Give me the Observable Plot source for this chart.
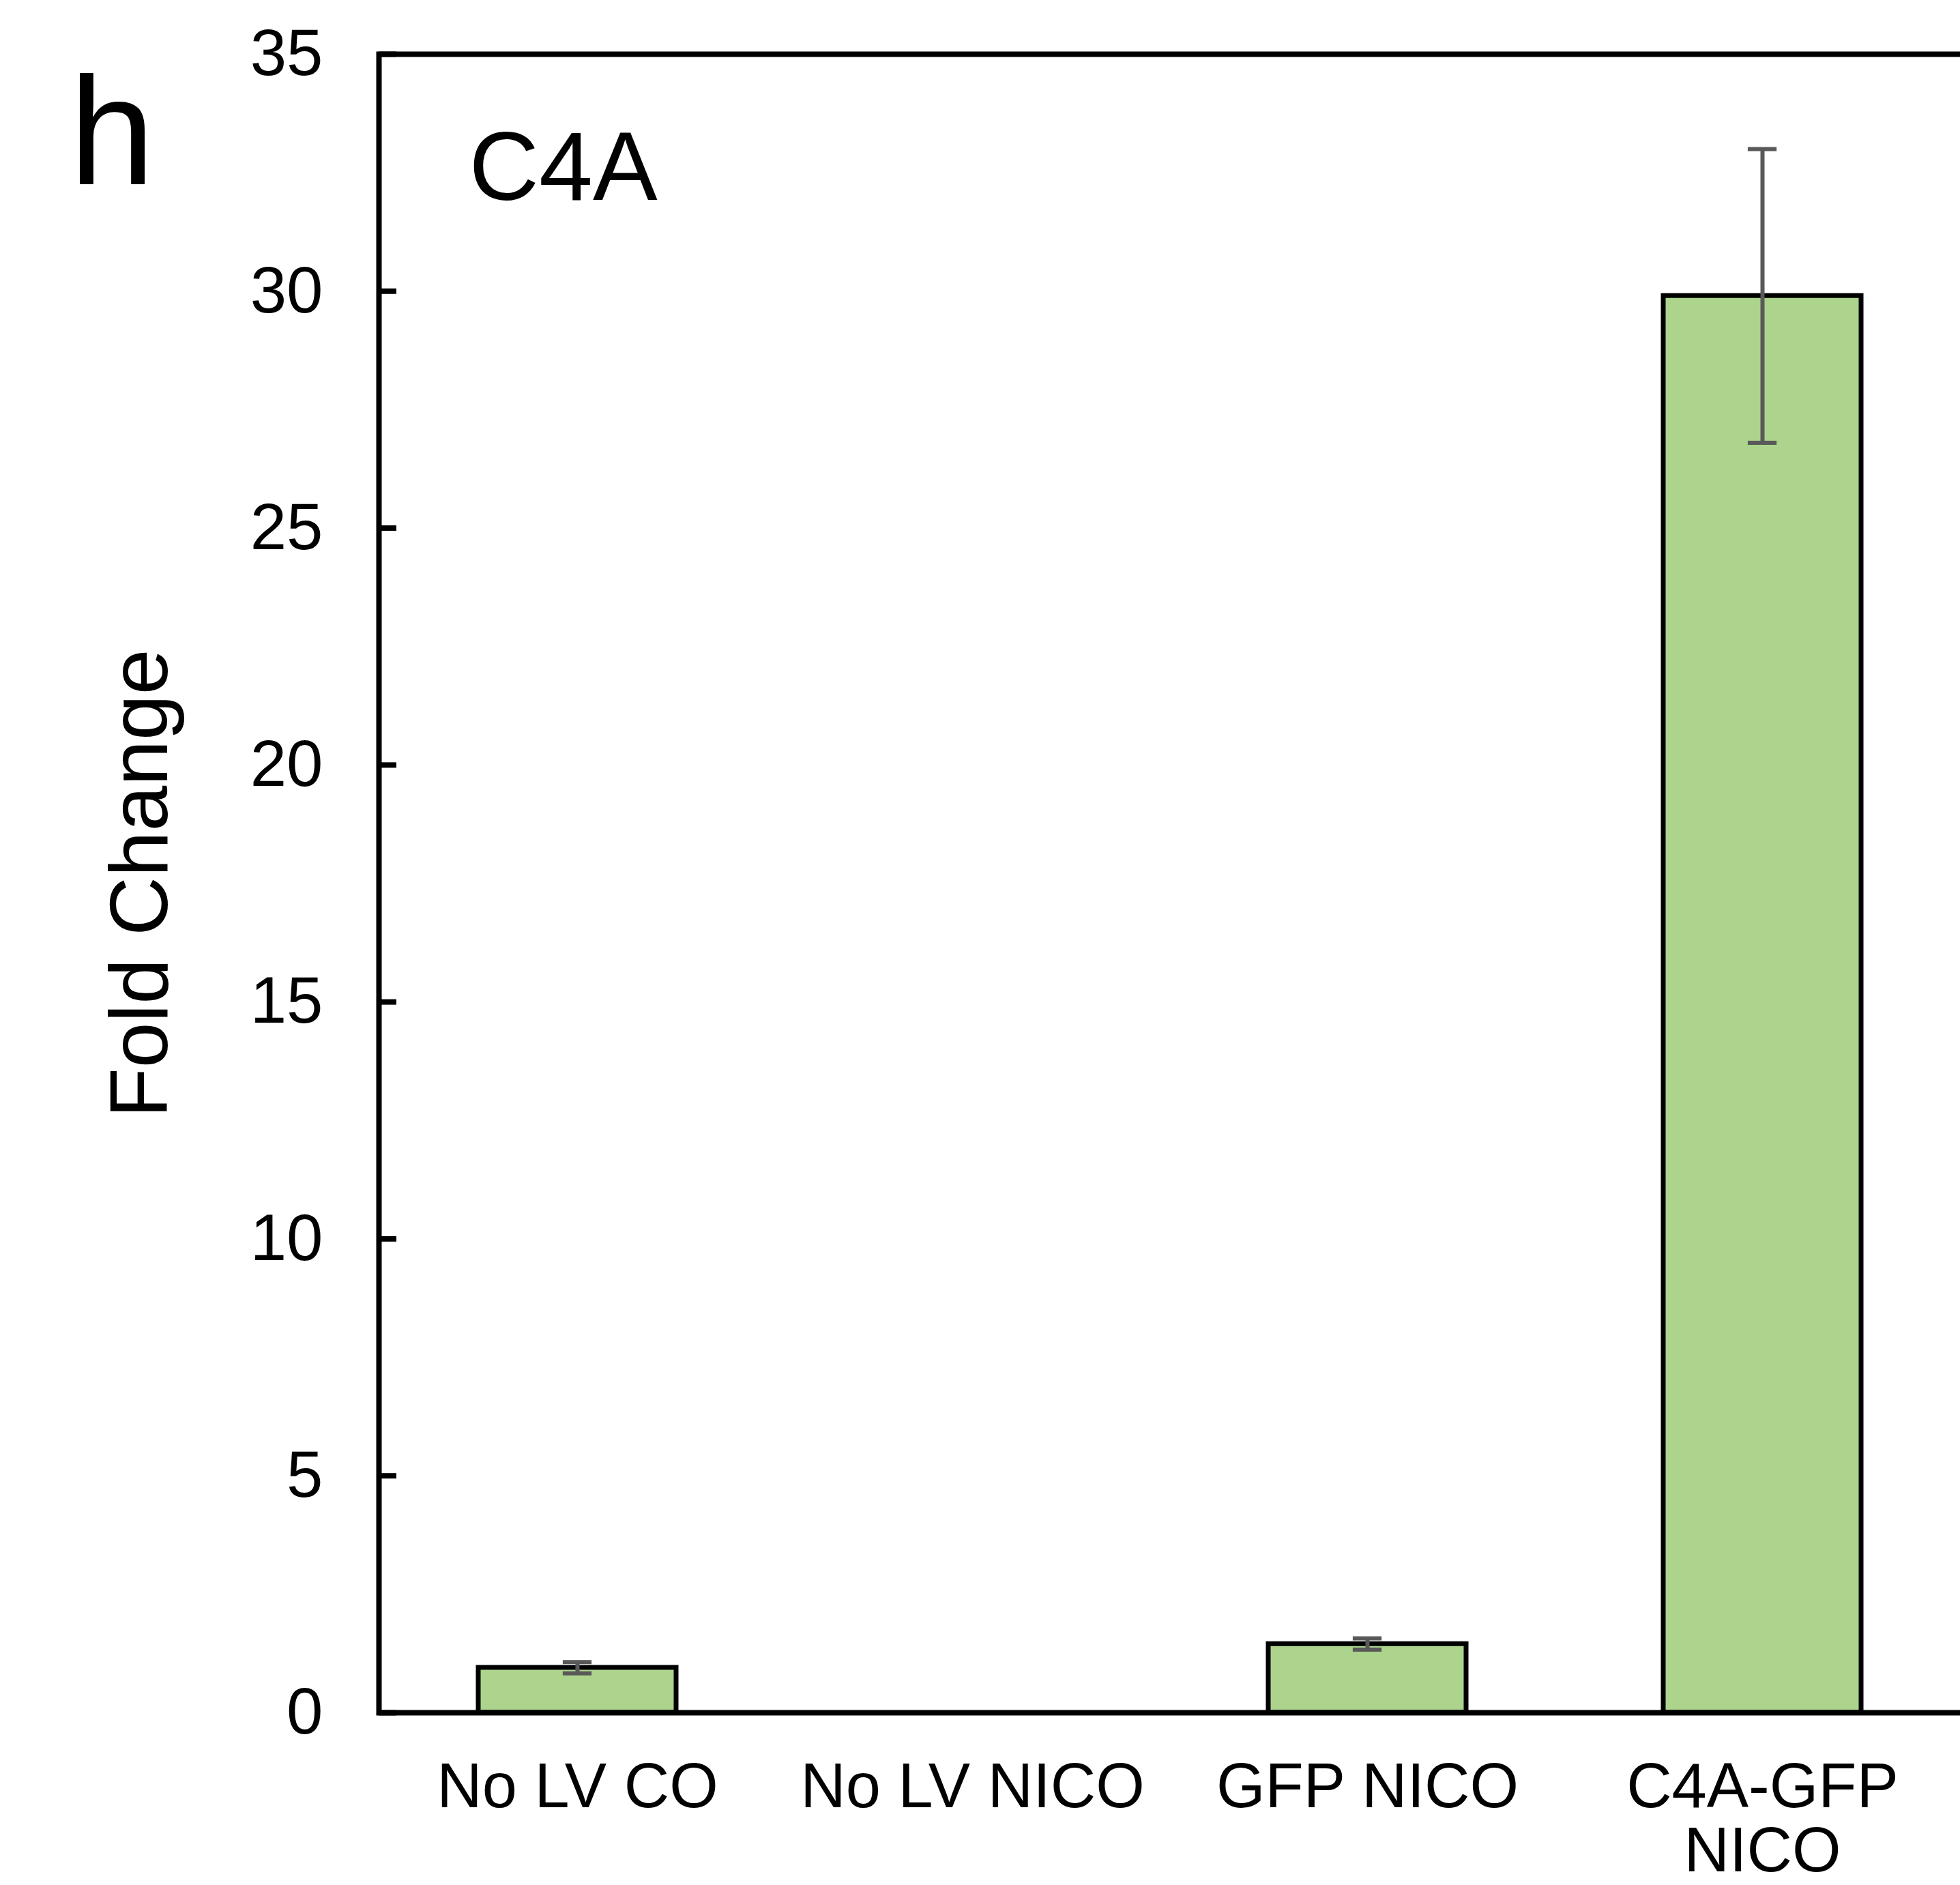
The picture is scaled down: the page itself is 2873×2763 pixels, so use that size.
<!DOCTYPE html>
<html>
<head>
<meta charset="utf-8">
<script src="https://cdn.jsdelivr.net/npm/d3@7"></script>
<script src="https://cdn.jsdelivr.net/npm/@observablehq/plot@0.6"></script>
<style>
  html, body { margin: 0; padding: 0; background: #ffffff; overflow: hidden; }
  #chart svg { display: block; }
</style>
</head>
<body>
<div id="chart"></div>
<script>
const categories = ["No LV CO", "No LV NICO", "GFP NICO", "C4A-GFP NICO"];
const tickLabels = ["No LV CO", "No LV NICO", "GFP NICO", "C4A-GFP\nNICO"];
const foldChange = [0.95, 0, 1.45, 29.9];
const errors = [0.12, 0, 0.12, 3.1];
const yTicks = [0, 5, 10, 15, 20, 25, 30, 35];
const panelLetter = "h";
const geneLabel = "C4A";
const yLabel = "Fold Change";

const data = categories.map((c, i) => ({cat: c, value: foldChange[i], err: errors[i], label: tickLabels[i]}));
const withErr = data.filter(d => d.err > 0);

const W = 2873, H = 2763;
const mL = 555, mT = 79, mB = H - 2510, mR = 0;
const font = "Liberation Sans, Arial, Helvetica, sans-serif";
const bandW = (W - mL - mR) / 4 * 0.5;
const capW = 42;

const chart = Plot.plot({
  width: W,
  height: H,
  marginLeft: mL,
  marginTop: mT,
  marginBottom: mB,
  marginRight: mR,
  style: {fontFamily: font, fontSize: "96px", color: "#000", background: "#fff"},
  x: {domain: categories, paddingInner: 0.5, paddingOuter: 0.25},
  y: {domain: [0, 35]},
  marks: [
    Plot.barY(data, {x: "cat", y: "value", fill: "#acd48d", stroke: "#000", strokeWidth: 7}),
    Plot.ruleX(withErr, {x: "cat", y1: d => d.value - d.err, y2: d => d.value + d.err, stroke: "#595959", strokeWidth: 6}),
    Plot.tickY(withErr, {x: "cat", y: d => d.value + d.err, stroke: "#595959", strokeWidth: 6, insetLeft: (bandW - capW) / 2, insetRight: (bandW - capW) / 2}),
    Plot.tickY(withErr, {x: "cat", y: d => d.value - d.err, stroke: "#595959", strokeWidth: 6, insetLeft: (bandW - capW) / 2, insetRight: (bandW - capW) / 2}),
    Plot.frame({stroke: "#000", strokeWidth: 8, insetRight: -40}),
    Plot.axisY({ticks: yTicks, tickSize: -26, tickPadding: 108, strokeWidth: 8, label: null, fontSize: 96, tickFormat: d => String(d)}),
    Plot.axisX({tickSize: 0, tickPadding: 72, label: null, fontSize: 92, lineHeight: 1.02, tickFormat: (d) => tickLabels[categories.indexOf(d)]}),
    Plot.text([panelLetter], {frameAnchor: "top-left", text: d => d, dx: 101 - mL, dy: 31, lineAnchor: "top", textAnchor: "start", fontSize: 225}),
    Plot.text([geneLabel], {frameAnchor: "top-left", text: d => d, dx: 687 - mL, dy: 113, lineAnchor: "top", textAnchor: "start", fontSize: 142}),
    Plot.text([yLabel], {frameAnchor: "left", text: d => d, dx: 244 - mL, rotate: -90, lineAnchor: "bottom", textAnchor: "middle", fontSize: 120})
  ]
});
document.getElementById("chart").appendChild(chart);
</script>
</body>
</html>
